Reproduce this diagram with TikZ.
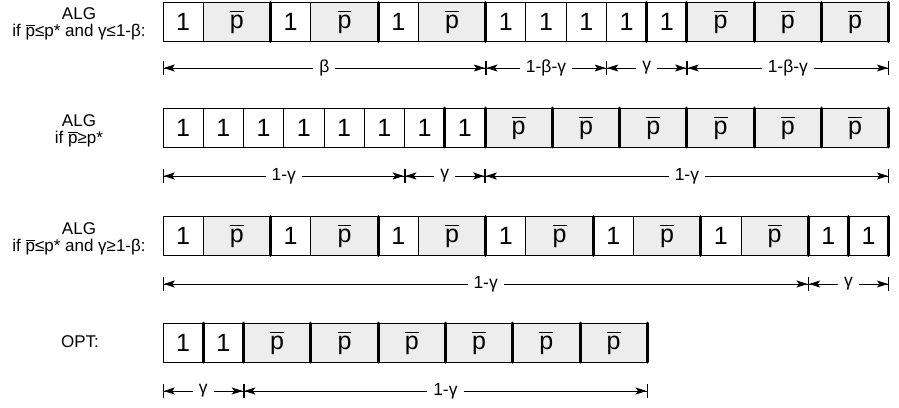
\documentclass[tikz,border=0pt]{standalone}
\usepackage{amsmath}
\usepackage{fontspec}
\setmainfont{Liberation Sans}
\usetikzlibrary{arrows.meta,positioning}

\newcommand{\pbarsym}{$\overline{\text{p}}$}
\def\rowalgone{a,p,a,p,a,p,a,a,a,b,b,p,p,p}
\def\rowalgtwo{a,a,a,a,a,a,b,b,p,p,p,p,p,p}
\def\rowalgthree{a,p,a,p,a,p,a,p,a,p,a,p,b,b}
\def\rowopt{b,b,p,p,p,p,p,p}

\begin{document}
\begin{tikzpicture}[x=1pt, y=-1pt,
  cell/.style={draw, line width=1pt, outer sep=0pt, inner sep=0pt,
               minimum height=39pt, font=\fontsize{25}{28}\selectfont},
  cella/.style={cell, minimum width=40.25pt, fill=white, node contents=1},
  cellb/.style={cella},
  cellp/.style={cell, minimum width=67.3pt, fill=black!7, node contents=\pbarsym},
  edgea/.style={line width=1pt},
  edgeb/.style={line width=3pt, line cap=round},
  edgep/.style={edgeb},
  lbl/.style={align=center, font=\fontsize{17}{17.5}\selectfont},
  dimlbl/.style={fill=white, inner sep=6pt, font=\fontsize{17.5}{18}\selectfont},
  dim/.style={line width=0.8pt,
    {Bar[width=14pt,sep=0pt]Stealth[length=11pt,width=7pt,inset=2.5pt,sep=0pt]}-{Stealth[length=11pt,width=7pt,inset=2.5pt,sep=0pt]Bar[width=14pt,sep=0pt]}}
]
\useasboundingbox (0,0) rectangle (899,407);

% row labels
\node[lbl] (l1) at (79,24) {ALG\\if \pbarsym≤p* and γ≤1-β:};
\node[lbl] (l2) at (79,131) {ALG\\if \pbarsym≥p*};
\node[lbl] (l3) at (79,239) {ALG\\if \pbarsym≤p* and γ≥1-β:};
\node[lbl] (l4) at (80,342) {OPT:};

% ALG, first case
\coordinate (r1c0) at (163,22);
\foreach \t [count=\i, remember=\i as \j (initially 0)] in \rowalgone
  \node (r1c\i) [cell\t, right=0pt of r1c\j];
\foreach \t [count=\i] in \rowalgone
  \draw[edge\t] (r1c\i.north east) -- (r1c\i.south east);

% ALG, second case
\coordinate (r2c0) at (163,127.5);
\foreach \t [count=\i, remember=\i as \j (initially 0)] in \rowalgtwo
  \node (r2c\i) [cell\t, right=0pt of r2c\j];
\foreach \t [count=\i] in \rowalgtwo
  \draw[edge\t] (r2c\i.north east) -- (r2c\i.south east);

% ALG, third case
\coordinate (r3c0) at (163,236);
\foreach \t [count=\i, remember=\i as \j (initially 0)] in \rowalgthree
  \node (r3c\i) [cell\t, right=0pt of r3c\j];
\foreach \t [count=\i] in \rowalgthree
  \draw[edge\t] (r3c\i.north east) -- (r3c\i.south east);

% OPT
\coordinate (r4c0) at (163,342.5);
\foreach \t [count=\i, remember=\i as \j (initially 0)] in \rowopt
  \node (r4c\i) [cell\t, right=0pt of r4c\j];
\foreach \t [count=\i] in \rowopt
  \draw[edge\t] (r4c\i.north east) -- (r4c\i.south east);

% dimension lines
\coordinate (d1a) at (r1c1.west |- 0,68);
\coordinate (d1b) at (r1c6.east |- 0,68);
\coordinate (d1c) at (r1c9.east |- 0,68);
\coordinate (d1d) at (r1c11.east |- 0,68);
\coordinate (d1e) at (r1c14.east |- 0,68);
\draw[dim] (d1a) -- node[dimlbl]{β} (d1b);
\draw[dim] (d1b) -- node[dimlbl]{1-β-γ} (d1c);
\draw[dim] (d1c) -- node[dimlbl]{γ} (d1d);
\draw[dim] (d1d) -- node[dimlbl]{1-β-γ} (d1e);

\coordinate (d2a) at (r2c1.west |- 0,176);
\coordinate (d2b) at (r2c6.east |- 0,176);
\coordinate (d2c) at (r2c8.east |- 0,176);
\coordinate (d2d) at (r2c14.east |- 0,176);
\draw[dim] (d2a) -- node[dimlbl]{1-γ} (d2b);
\draw[dim] (d2b) -- node[dimlbl]{γ} (d2c);
\draw[dim] (d2c) -- node[dimlbl]{1-γ} (d2d);

\coordinate (d3a) at (r3c1.west |- 0,284);
\coordinate (d3b) at (r3c12.east |- 0,284);
\coordinate (d3c) at (r3c14.east |- 0,284);
\draw[dim] (d3a) -- node[dimlbl]{1-γ} (d3b);
\draw[dim] (d3b) -- node[dimlbl]{γ} (d3c);

\coordinate (d4a) at (r4c1.west |- 0,391);
\coordinate (d4b) at (r4c2.east |- 0,391);
\coordinate (d4c) at (r4c8.east |- 0,391);
\draw[dim] (d4a) -- node[dimlbl]{γ} (d4b);
\draw[dim] (d4b) -- node[dimlbl]{1-γ} (d4c);
\end{tikzpicture}
\end{document}
